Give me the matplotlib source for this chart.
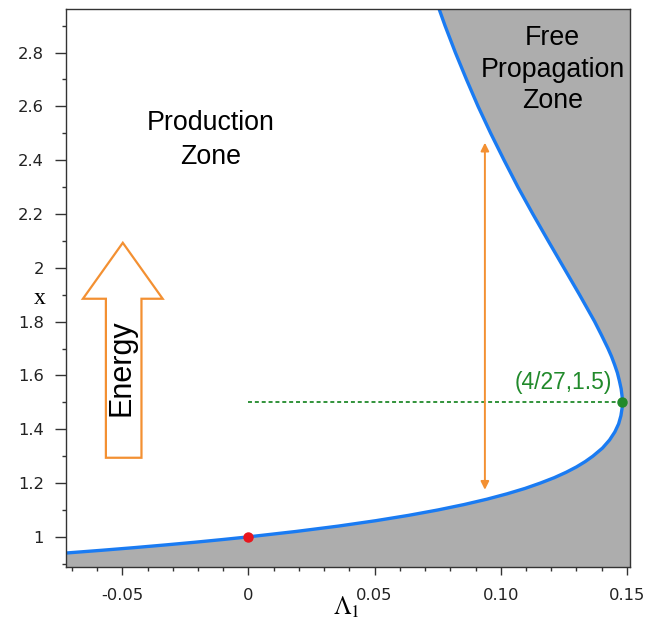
import matplotlib
matplotlib.use("Agg")
import matplotlib.pyplot as plt
from matplotlib.patches import Polygon
from matplotlib.ticker import FixedLocator, FixedFormatter, MultipleLocator

# ---- data ----
x_vals = [0.88, 0.90, 0.92, 0.93, 0.94, 0.95, 0.96, 0.97, 0.98, 0.99, 1.00,
          1.02, 1.04, 1.06, 1.08, 1.10, 1.12, 1.14, 1.16, 1.18, 1.20, 1.22,
          1.24, 1.26, 1.28, 1.30, 1.33, 1.36, 1.39, 1.42, 1.45, 1.48, 1.50,
          1.52, 1.55, 1.58, 1.61, 1.64, 1.67, 1.70, 1.75, 1.80, 1.85, 1.90,
          1.95, 2.00, 2.10, 2.20, 2.30, 2.40, 2.50, 2.60, 2.70, 2.80, 2.90, 3.00]
lambda_vals = [-0.1761, -0.1372, -0.1027, -0.0870, -0.0722, -0.0583, -0.0452,
               -0.0329, -0.0212, -0.0103, 0.0,
               0.0188, 0.0356, 0.0504, 0.0635, 0.0751, 0.0854, 0.0945, 0.1025,
               0.1096, 0.1157, 0.1212, 0.1259, 0.1300, 0.1335, 0.1365, 0.1403,
               0.1431, 0.1452, 0.1467, 0.1476, 0.1481, 0.1481, 0.1481, 0.1477,
               0.1470, 0.1462, 0.1451, 0.1439, 0.1425, 0.1399, 0.1372, 0.1342,
               0.1312, 0.1281, 0.1250, 0.1188, 0.1127, 0.1068, 0.1013, 0.0960,
               0.0910, 0.0864, 0.0820, 0.0779, 0.0741]

red_point = (0.0, 1.0)
green_point = (4 / 27, 1.5)
green_label = "(4/27,1.5)"
vert_arrow_lambda = 0.0937
vert_arrow_range = (1.175, 2.465)

x_tick_vals = [-0.05, 0.0, 0.05, 0.10, 0.15]
x_tick_labels = ["-0.05", "0", "0.05", "0.10", "0.15"]
y_tick_vals = [1.0, 1.2, 1.4, 1.6, 1.8, 2.0, 2.2, 2.4, 2.6, 2.8]
y_tick_labels = ["1", "1.2", "1.4", "1.6", "1.8", "2", "2.2", "2.4", "2.6", "2.8"]

# ---- styling ----
plt.rcParams['font.family'] = ['Liberation Sans', 'DejaVu Sans']
plt.rcParams['mathtext.fontset'] = 'stix'

GRAY = '#adadad'
BLUE = '#1a7bf2'
ORANGE = '#f39032'
GREEN = '#218a2b'
AXC = '#333333'

fig = plt.figure(figsize=(6.46, 6.23), dpi=100)
ax = fig.add_axes([0.1022, 0.0899, 0.873, 0.8957])
ax.set_xlim(-0.0723, 0.1512)
ax.set_ylim(0.888, 2.962)

ax.fill_betweenx(x_vals, lambda_vals, 0.3, color=GRAY, lw=0, zorder=1)
ax.plot(lambda_vals, x_vals, color=BLUE, lw=2.4, zorder=3, solid_joinstyle='round')

# green dotted line and dot
ax.plot([red_point[0], green_point[0]], [green_point[1], green_point[1]],
        color=GREEN, lw=1.3, linestyle=(0, (2.2, 1.6)), zorder=2)
ax.plot([green_point[0]], [green_point[1]], 'o', color=GREEN, ms=6.5, zorder=4)
ax.text(0.1249, 1.575, green_label, color=GREEN, fontsize=16.5,
        ha='center', va='center', zorder=5)

# red dot
ax.plot([red_point[0]], [red_point[1]], 'o', color='#e8151d', ms=6.5, zorder=4)

# vertical double arrow
ax.annotate('', xy=(vert_arrow_lambda, vert_arrow_range[1]),
            xytext=(vert_arrow_lambda, vert_arrow_range[0]),
            arrowprops=dict(arrowstyle='<|-|>', color=ORANGE, lw=1.4,
                            mutation_scale=12, shrinkA=0, shrinkB=0), zorder=4)

# big hollow Energy arrow
arrow_pts = [(-0.0565, 1.294), (-0.0424, 1.294), (-0.0424, 1.885), (-0.0340, 1.885),
             (-0.0498, 2.093), (-0.0656, 1.885), (-0.0565, 1.885)]
ax.add_patch(Polygon(arrow_pts, closed=True, facecolor='white', edgecolor=ORANGE,
                     lw=1.6, zorder=4))
ax.text(-0.0503, 1.628, 'Energy', rotation=90, fontsize=22, ha='center', va='center',
        zorder=5)

# zone labels
ax.text(-0.0148, 2.476, 'Production\nZone', fontsize=19.3, ha='center', va='center',
        linespacing=1.38, zorder=5)
ax.text(0.1205, 2.736, 'Free\nPropagation\nZone', fontsize=19.3, ha='center',
        va='center', linespacing=1.28, zorder=5)

# ticks
ax.xaxis.set_major_locator(FixedLocator(x_tick_vals))
ax.xaxis.set_major_formatter(FixedFormatter(x_tick_labels))
ax.xaxis.set_minor_locator(MultipleLocator(0.01))
ax.yaxis.set_major_locator(FixedLocator(y_tick_vals))
ax.yaxis.set_major_formatter(FixedFormatter(y_tick_labels))
ax.yaxis.set_minor_locator(MultipleLocator(0.1))

for lab in ax.get_xticklabels() + ax.get_yticklabels():
    lab.set_family(['DejaVu Sans'])
ax.tick_params(axis='both', which='major', direction='out', length=6, width=1,
               color=AXC, labelcolor='#222222')
ax.tick_params(axis='x', which='major', pad=9, labelsize=11.8)
ax.tick_params(axis='y', which='major', length=8, pad=8, labelsize=11.8)
ax.tick_params(axis='both', which='minor', direction='out', length=3, width=1,
               color=AXC)

for sp in ax.spines.values():
    sp.set_color(AXC)
    sp.set_linewidth(1.0)
    sp.set_zorder(6)

ax.set_ylabel('x', family=['Liberation Serif'], fontsize=17, rotation=0,
              va='center', ha='center')
ax.yaxis.set_label_coords(-0.046, 0.482)
ax.set_xlabel(r'$\Lambda_1$', fontsize=18, va='top')
ax.xaxis.set_label_coords(0.497, -0.050)

fig.savefig('out.png', dpi=100)
